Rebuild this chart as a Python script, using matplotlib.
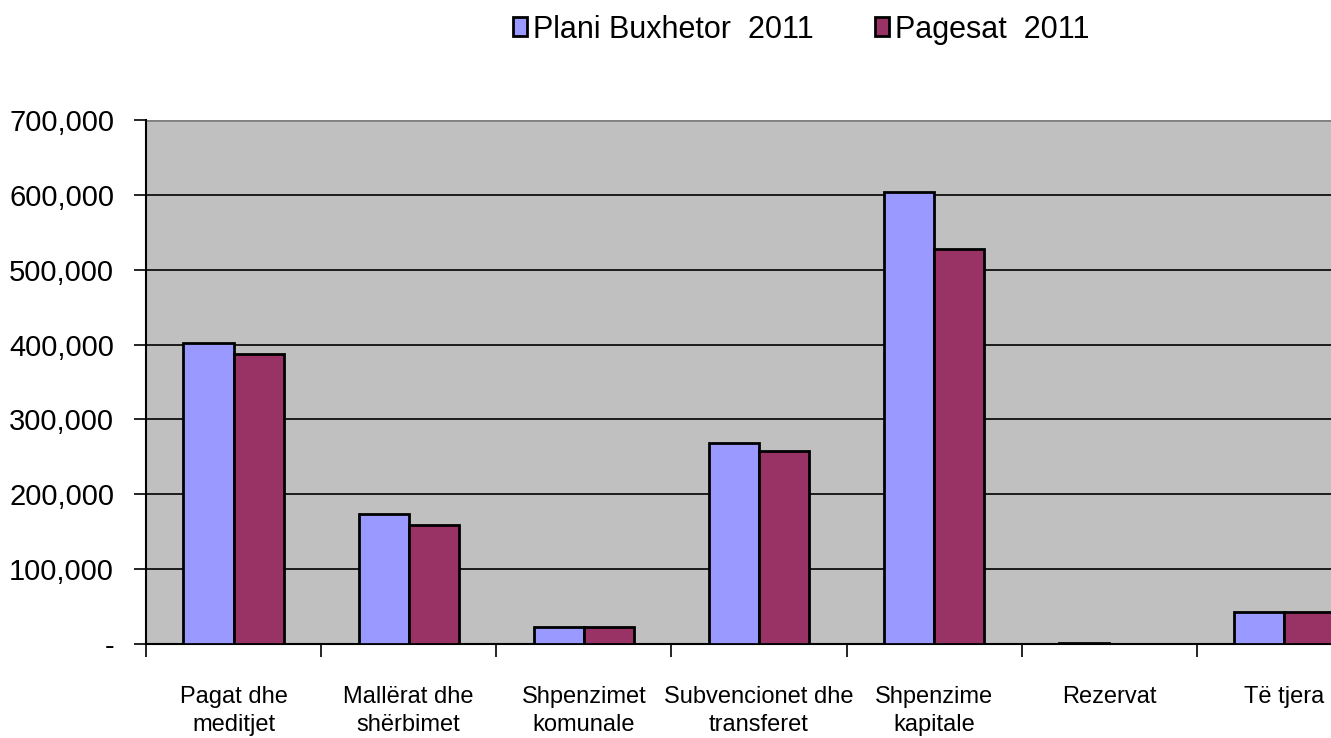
import numpy as np
import matplotlib.pyplot as plt
from matplotlib.ticker import FuncFormatter, MultipleLocator
from matplotlib.font_manager import fontManager

# =========================================================
# DATA
# =========================================================

categories = [
    "Pagat dhe\nmeditjet",
    "Mallërat dhe\nshërbimet",
    "Shpenzimet\nkomunale",
    "Subvencionet dhe\ntransferet",
    "Shpenzime\nkapitale",
    "Rezervat",
    "Të tjera",
]

plan_2011 = [402000, 174000, 22500, 268500, 604000, 1500, 43000]
pagesat_2011 = [387000, 159000, 22500, 258000, 528000, 0, 43000]

series_names = ["Plani Buxhetor  2011", "Pagesat  2011"]

# =========================================================
# STYLE
# =========================================================

names = {f.name for f in fontManager.ttflist}
if "Liberation Sans Narrow" in names:
    plt.rcParams["font.family"] = ["Liberation Sans Narrow", "DejaVu Sans"]
else:
    plt.rcParams["font.family"] = ["Liberation Sans", "DejaVu Sans"]

BLUE = "#9999FF"
RED = "#993366"

# =========================================================
# PLOT
# =========================================================

fig = plt.figure(figsize=(13.31, 7.38), dpi=100)
ax = fig.add_axes([146 / 1331, 94 / 738, 1226 / 1331, 524 / 738])
ax.set_facecolor("#C0C0C0")

x = np.arange(len(categories))
w = 0.286

ax.bar(x - w / 2, plan_2011, w, color=BLUE, edgecolor="black",
       linewidth=2, label=series_names[0], zorder=3)
ax.bar(x + w / 2, pagesat_2011, w, color=RED, edgecolor="black",
       linewidth=2, label=series_names[1], zorder=3)

ax.set_xlim(-0.5, len(categories) - 0.5)
ax.set_ylim(0, 700000)

ax.yaxis.set_major_locator(MultipleLocator(100000))
ax.yaxis.set_major_formatter(
    FuncFormatter(lambda v, p: "-" if v == 0 else f"{int(v):,}")
)
ax.grid(axis="y", color="black", linewidth=1.2, zorder=1)

ax.set_xticks(x)
ax.set_xticklabels(categories, fontsize=17, linespacing=1.4)
ax.set_xticks(np.arange(-0.5, len(categories)), minor=True)
ax.tick_params(axis="x", which="major", length=0, pad=30)
ax.tick_params(axis="x", which="minor", length=9, width=1.2,
               direction="out", color="black")
ax.tick_params(axis="y", labelsize=21, length=9, width=1.2,
               direction="out", pad=14)

for s in ["top", "right"]:
    ax.spines[s].set_visible(False)
ax.spines["left"].set_linewidth(1.5)
ax.spines["bottom"].set_linewidth(1.5)
ax.axhline(700000, color="#808080", linewidth=2, zorder=2)

fig.legend(
    loc="center",
    bbox_to_anchor=(0.602, 0.96),
    ncol=2,
    frameon=False,
    fontsize=22,
    handlelength=0.45,
    handleheight=0.6,
    handletextpad=0.2,
    columnspacing=2.0,
)

plt.savefig("out.png", dpi=100)
plt.close()
